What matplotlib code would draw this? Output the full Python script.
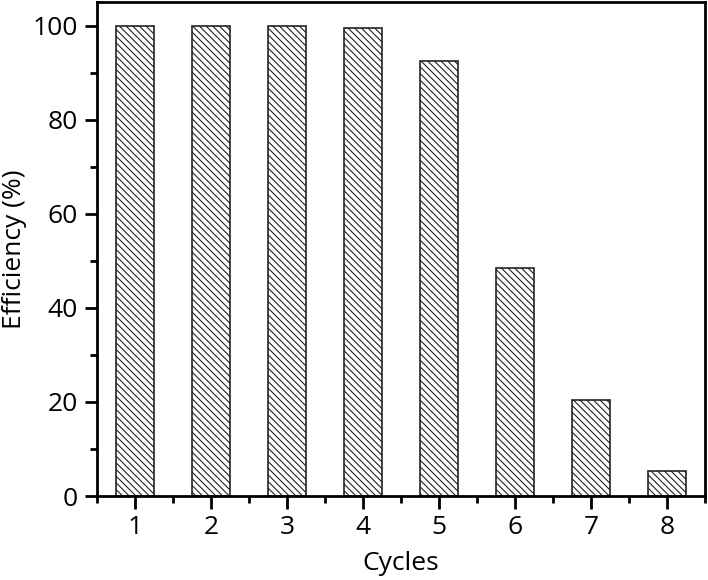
import matplotlib
matplotlib.use("Agg")
import matplotlib.pyplot as plt
from matplotlib.ticker import MultipleLocator

cycles = [1, 2, 3, 4, 5, 6, 7, 8]
efficiency = [100, 100, 100, 99.5, 92.5, 48.4, 20.4, 5.4]

plt.rcParams['font.family'] = ['Open Sans', 'DejaVu Sans']
plt.rcParams['hatch.linewidth'] = 0.8

fig = plt.figure(figsize=(7.08, 5.8), dpi=100)
ax = fig.add_axes([97 / 708, 84 / 580, 608 / 708, 494 / 580])

ax.bar(cycles, efficiency, width=0.5, color='white', edgecolor='#222222',
       linewidth=1.2, hatch='\\\\\\\\\\')

ax.set_xlim(0.5, 8.5)
ax.set_ylim(0, 105)
ax.xaxis.set_major_locator(MultipleLocator(1))
ax.xaxis.set_minor_locator(MultipleLocator(0.5))
ax.yaxis.set_major_locator(MultipleLocator(20))
ax.yaxis.set_minor_locator(MultipleLocator(10))
ax.tick_params(which='both', direction='out', width=2, labelsize=19, top=False, right=False)
ax.tick_params(which='major', length=9, pad=5)
ax.tick_params(which='minor', length=5)
for s in ax.spines.values():
    s.set_linewidth(2)

ax.set_xlabel('Cycles', fontsize=19)
ax.set_ylabel('Efficiency (%)', fontsize=19)
ax.xaxis.set_label_coords(0.5, -0.112)
ax.yaxis.set_label_coords(-0.115, 0.5)

fig.savefig('out.png', dpi=100)
